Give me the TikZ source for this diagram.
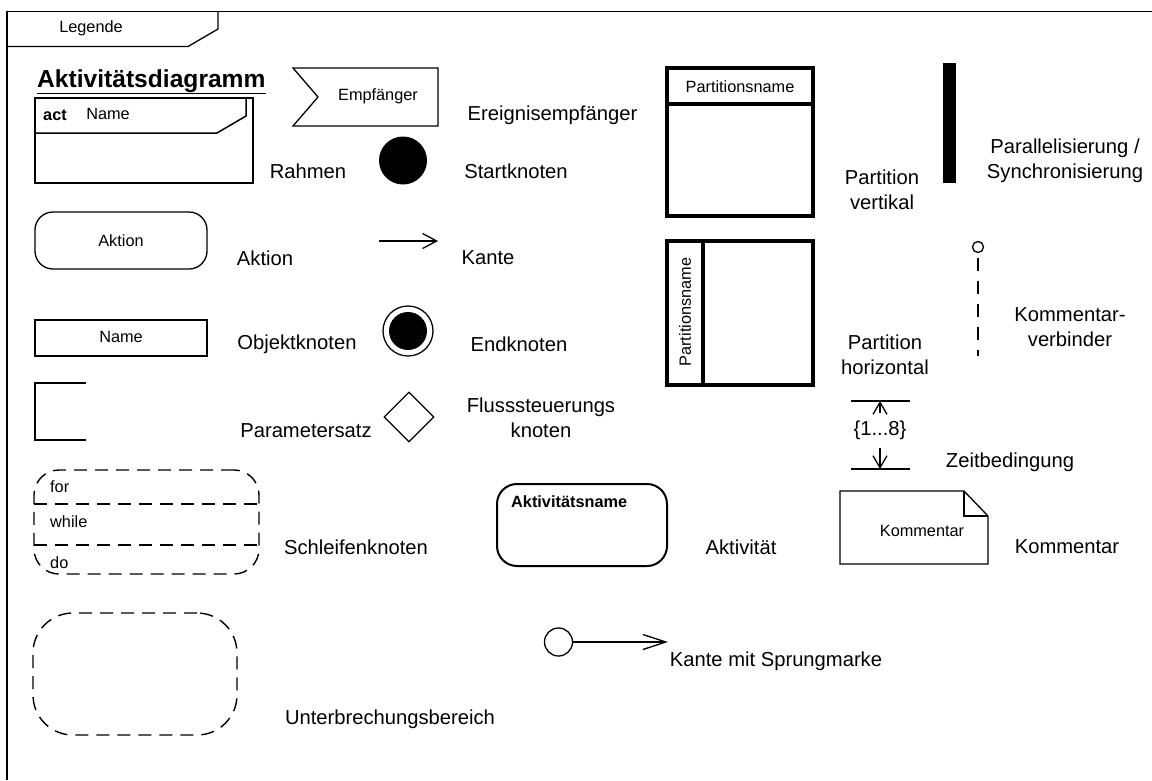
\documentclass[tikz,border=0pt]{standalone}
\usepackage{fontspec}
\setmainfont{Liberation Sans}
\usetikzlibrary{shapes.geometric,arrows.meta}
\tikzset{
  lbl/.style={font=\fontsize{20.2}{25}\selectfont, align=center, inner sep=0pt},
  small/.style={font=\fontsize{16.3}{19}\selectfont, inner sep=0pt},
  box/.style={draw, line width=1.3pt, inner sep=0pt, rectangle},
  thickbox/.style={draw, line width=3.2pt, inner sep=0pt, rectangle},
  dashbox/.style={draw, line width=1.4pt, inner sep=0pt, rectangle, dash pattern=on 13pt off 8pt},
  edgetip/.style={line width=1.3pt, -{Straight Barb[length=14pt,width=15pt,line width=1.3pt]}},
  jumptip/.style={line width=1.3pt, -{Straight Barb[length=23pt,width=15pt,line width=1.3pt]}},
  timetip/.style={line width=1.3pt, -{Straight Barb[length=12pt,width=14pt,line width=1.3pt]}},
}
\begin{document}
\begin{tikzpicture}[x=1pt,y=-1pt]
\useasboundingbox (0,0) rectangle (1152,780);
% outer frame and legend tab
\draw[line width=1.3pt] (1152,11.5) -- (7,11.5) -- (7,780);
\draw[line width=1.3pt] (7,46.5) -- (188,46.5) -- (218,29) -- (218,11.5);
\node[small] (legende) at (91,28) {Legende};

% title
\node[inner sep=0pt, font=\fontsize{24.6}{29}\selectfont\bfseries, anchor=base west] (title) at (37,87) {\underline{Aktivitätsdiagramm}};

% Rahmen
\node[box, line width=1.5pt, minimum width=218pt, minimum height=85pt] (rahmen) at (144,140.5) {};
\draw[line width=1.5pt] (35,133) -- (217,133) -- (246,116) -- (246,98);
\node[small, font=\fontsize{16.3}{19}\selectfont\bfseries] (act) at (55,115) {act};
\node[small] (rname) at (108,114) {Name};
\node[lbl] (lrahmen) at (308,171) {Rahmen};

% Empfaenger
\draw[line width=1.3pt] (293,68) -- (438,68) -- (438,126) -- (293,126) -- (318,97) -- cycle;
\node[small] (empf) at (378,96) {Empfänger};
\node[lbl] (lempf) at (552.5,115) {Ereignisempfänger};

% Startknoten
\node[circle, fill=black, minimum size=48pt, inner sep=0pt] (start) at (403,160.5) {};
\node[lbl] (lstart) at (516,171) {Startknoten};

% Partition vertikal
\node[thickbox, minimum width=146pt, minimum height=148pt] (partv) at (740,142) {};
\draw[line width=3.2pt] (667,104) -- (813,104);
\node[small] (pvname) at (740,87) {Partitionsname};
\node[lbl] (lpartv) at (882,190) {Partition\\vertikal};

% Synchronisierung
\node[fill=black, minimum width=13pt, minimum height=120pt, inner sep=0pt] (sync) at (949.5,123) {};
\node[lbl] (lsync) at (1065,161) {Parallelisierung /\\Synchronisierung};

% Aktion
\node[box, rounded corners=18pt, minimum width=172pt, minimum height=57pt] (aktion) at (121,240.5) {};
\node[small] (aktiontxt) at (121,241) {Aktion};
\node[lbl] (laktion) at (265,258) {Aktion};

% Kante
\coordinate (k1) at (379,241);
\coordinate (k2) at (438,241);
\draw[edgetip] (k1) -- (k2);
\node[lbl] (lkante) at (488,258) {Kante};

% Partition horizontal
\node[thickbox, minimum width=146pt, minimum height=144pt] (parth) at (740,313) {};
\draw[line width=3.2pt] (703,241) -- (703,385);
\node[small, rotate=90] (phname) at (685,312) {Partitionsname};
\node[lbl] (lparth) at (885,355) {Partition\\horizontal};

% Kommentarverbinder
\node[circle, draw, line width=1.3pt, minimum size=11pt, inner sep=0pt] (kc) at (978,247) {};
\coordinate (kend) at (978,356);
\draw[line width=1.3pt, dash pattern=on 13pt off 10pt, shorten <=4.5pt] (kc.south) -- (kend);
\node[lbl] (lkv) at (1070,327) {Kommentar-\\verbinder};

% Objektknoten
\node[box, minimum width=172pt, minimum height=36pt] (objekt) at (121,338) {};
\node[small] (objtxt) at (121,337) {Name};
\node[lbl] (lobjekt) at (297,344) {Objektknoten};

% Endknoten
\node[circle, draw, line width=1.3pt, minimum size=50pt, inner sep=0pt] (endo) at (408,331) {};
\node[circle, fill=black, minimum size=38pt, inner sep=0pt] (endi) at (408,331) {};
\node[lbl] (lend) at (519,344) {Endknoten};

% Parametersatz
\draw[line width=1.3pt] (86,383) -- (35,383) -- (35,440) -- (86,440);
\node[lbl] (lparam) at (306,431) {Parametersatz};

% Flusssteuerungsknoten
\node[diamond, draw, line width=1.3pt, minimum width=50pt, minimum height=50pt, inner sep=0pt] (dia) at (409,417) {};
\node[lbl] (ldia) at (541,418) {Flusssteuerungs\\knoten};

% Zeitbedingung
\draw[line width=1.3pt] (851,401) -- (910,401);
\draw[line width=1.3pt] (851,469) -- (910,469);
\coordinate (zt) at (880,401);
\coordinate (zb) at (880,469);
\node[lbl, minimum height=35pt] (zl) at (880,430.5) {\{1...8\}};
\draw[timetip] (zl.north) -- (zt);
\draw[timetip] (zl.south) -- (zb);
\node[lbl] (lzeit) at (1010,462) {Zeitbedingung};

% Schleifenknoten
\node[dashbox, rounded corners=25pt, minimum width=225pt, minimum height=104pt] (schleife) at (146.5,522) {};
\draw[line width=1.4pt, dash pattern=on 13pt off 8pt] (34,504) -- (259,504);
\draw[line width=1.4pt, dash pattern=on 13pt off 8pt] (34,545) -- (259,545);
\node[small, anchor=west] (sfor) at (50,487) {for};
\node[small, anchor=west] (swhile) at (50,522) {while};
\node[small, anchor=west] (sdo) at (50,563) {do};
\node[lbl] (lschleife) at (356,547) {Schleifenknoten};

% Aktivitaet
\node[box, line width=2pt, rounded corners=20pt, minimum width=170pt, minimum height=82pt] (akt) at (582,525) {};
\node[small, font=\fontsize{16.3}{19}\selectfont\bfseries, anchor=west] (aktname) at (511,502) {Aktivitätsname};
\node[lbl] (lakt) at (741,547) {Aktivität};

% Kommentar
\draw[line width=1.3pt] (840,491) -- (964,491) -- (988,516) -- (988,564) -- (840,564) -- cycle;
\draw[line width=1.3pt] (964,491) -- (964,516) -- (988,516);
\node[small] (ktxt) at (922,531) {Kommentar};
\node[lbl] (lkomm) at (1067,547) {Kommentar};

% Unterbrechungsbereich
\node[dashbox, rounded corners=40pt, minimum width=204pt, minimum height=122pt] (unterbr) at (135,674) {};
\node[lbl] (lunterbr) at (390,719) {Unterbrechungsbereich};

% Kante mit Sprungmarke
\node[circle, draw, line width=1.3pt, minimum size=28pt, inner sep=0pt] (jump) at (558.5,642) {};
\coordinate (jend) at (668,642);
\draw[jumptip] (jump.east) -- (jend);
\node[lbl] (ljump) at (776,661) {Kante mit Sprungmarke};
\end{tikzpicture}
\end{document}
